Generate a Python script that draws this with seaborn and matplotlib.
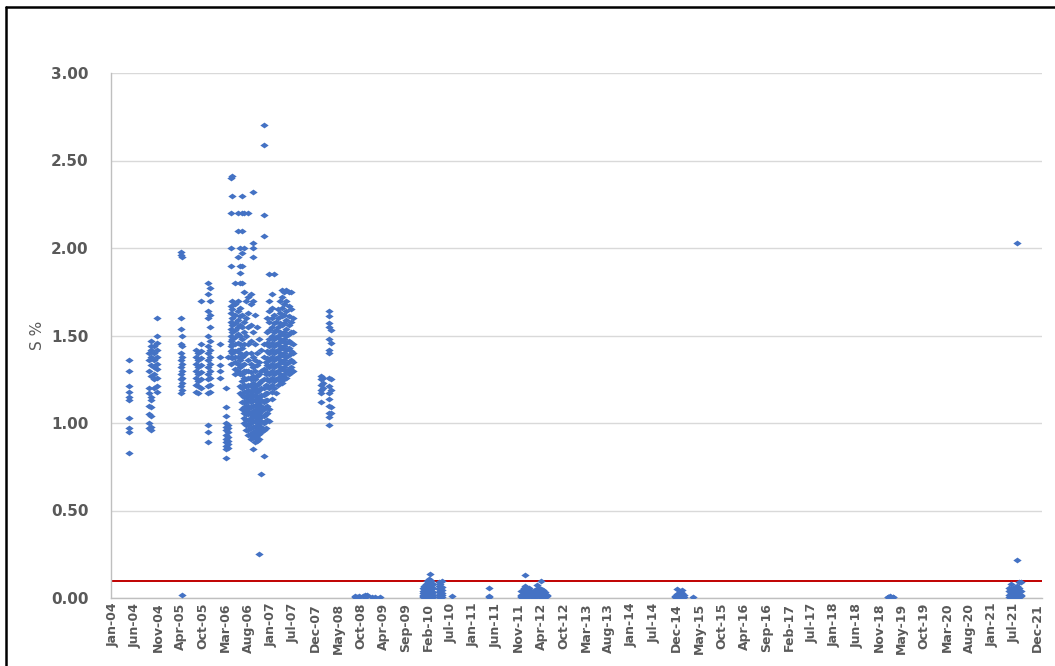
import pandas as pd
import matplotlib
matplotlib.use("Agg")
import matplotlib.pyplot as plt
from matplotlib.path import Path
from matplotlib.lines import Line2D
import seaborn as sns

# each entry of col_dates is one column of points, its S % values are in col_values
col_dates = [
    "2004-04-26", "2004-09-10", "2004-09-25", "2004-10-20", "2004-11-08",
    "2005-04-26", "2005-05-06", "2005-08-15", "2005-08-30", "2005-09-20",
    "2005-11-05", "2005-11-20", "2006-01-30",
    "2006-03-15", "2006-03-25", "2006-04-20", "2006-04-28", "2006-05-15",
    "2006-06-05", "2006-06-20", "2006-07-05", "2006-07-20", "2006-08-05",
    "2006-08-20", "2006-09-05", "2006-09-20", "2006-10-05", "2006-10-20",
    "2006-11-05", "2006-11-18", "2006-12-05", "2006-12-20",
    "2007-01-01", "2007-01-15", "2007-02-01", "2007-02-15", "2007-03-01",
    "2007-03-15", "2007-04-01", "2007-04-15", "2007-05-01", "2007-05-15",
    "2007-06-01", "2007-06-15", "2007-07-01",
    "2008-01-15", "2008-01-28", "2008-03-15", "2008-03-28",
    "2008-09-15", "2008-09-25", "2008-10-10", "2008-11-10", "2008-11-25",
    "2008-12-05", "2009-01-10", "2009-02-01", "2009-03-10",
    "2010-01-10", "2010-01-20", "2010-02-01", "2010-02-10", "2010-02-20",
    "2010-03-01", "2010-03-10", "2010-03-20", "2010-05-01", "2010-05-10",
    "2010-05-25", "2010-08-01", "2011-04-20",
    "2011-12-10", "2011-12-25", "2012-01-05", "2012-01-20", "2012-02-01",
    "2012-02-15", "2012-03-01", "2012-03-15", "2012-04-01", "2012-04-15",
    "2012-04-25", "2012-05-10", "2012-05-25", "2012-06-10",
    "2014-12-05", "2014-12-20", "2015-01-05", "2015-01-20", "2015-02-05",
    "2015-04-10",
    "2019-01-25", "2019-02-10", "2019-02-25",
    "2021-06-01", "2021-06-15", "2021-06-28", "2021-07-10", "2021-07-25",
    "2021-08-08", "2021-08-25",
]

col_values = [
    [1.36, 1.30, 1.21, 1.18, 1.15, 1.13, 1.03, 0.97, 0.95, 0.83],
    [1.40, 1.36, 1.30, 1.20, 1.17, 1.10, 1.05, 1.00, 0.97],
    [1.47, 1.44, 1.42, 1.38, 1.33, 1.27, 1.15, 1.13, 1.09, 1.04, 0.98, 0.96],
    [1.44, 1.40, 1.36, 1.32, 1.28, 1.25, 1.20],
    [1.60, 1.50, 1.46, 1.42, 1.38, 1.34, 1.31, 1.26, 1.21, 1.18],
    [1.98, 1.96, 1.60, 1.54, 1.45, 1.40, 1.36, 1.32, 1.28, 1.25, 1.21, 1.17],
    [1.95, 1.50, 1.44, 1.38, 1.34, 1.30, 1.26, 1.23, 1.19, 0.02],
    [1.42, 1.38, 1.34, 1.30, 1.26, 1.22, 1.18],
    [1.40, 1.36, 1.32, 1.28, 1.24, 1.21, 1.17],
    [1.70, 1.45, 1.41, 1.37, 1.33, 1.29, 1.25, 1.20],
    [1.80, 1.74, 1.64, 1.60, 1.50, 1.44, 1.40, 1.36, 1.32, 1.28, 1.25, 1.21,
     1.17, 0.99, 0.95, 0.89],
    [1.77, 1.70, 1.62, 1.55, 1.47, 1.42, 1.38, 1.34, 1.30, 1.26, 1.22, 1.18],
    [1.45, 1.38, 1.33, 1.30, 1.26],
    [1.20, 1.09, 1.04, 1.00, 0.98, 0.96, 0.93, 0.91, 0.89, 0.87, 0.85, 0.80],
    [1.38, 0.99, 0.97, 0.95, 0.92, 0.90, 0.88, 0.86],
    [2.40, 2.20, 2.00, 1.90, 1.67, 1.63, 1.58, 1.54, 1.50, 1.47, 1.44, 1.41,
     1.38, 1.34],
    [2.41, 2.30, 1.70, 1.65, 1.60, 1.56, 1.52, 1.48, 1.45, 1.42, 1.40, 1.37],
    [1.80, 1.68, 1.62, 1.57, 1.53, 1.49, 1.45, 1.41, 1.38, 1.35, 1.31, 1.28],
    [2.20, 2.10, 1.95, 1.70, 1.64, 1.59, 1.55, 1.51, 1.46, 1.42, 1.38, 1.34,
     1.30],
    [2.00, 1.90, 1.86, 1.80, 1.66, 1.61, 1.56, 1.50, 1.45, 1.40, 1.36, 1.32,
     1.28, 1.21, 1.17],
    [2.30, 2.20, 2.10, 1.97, 1.90, 1.80, 1.62, 1.55, 1.48, 1.43, 1.38, 1.33,
     1.28, 1.24, 1.20, 1.16, 1.12, 1.08],
    [2.20, 2.00, 1.75, 1.58, 1.52, 1.45, 1.39, 1.34, 1.30, 1.26, 1.22, 1.18,
     1.15, 1.12, 1.09, 1.06, 1.03, 1.00],
    [1.70, 1.60, 1.50, 1.40, 1.30, 1.25, 1.21, 1.18, 1.15, 1.12, 1.10, 1.07,
     1.05, 1.02, 0.99, 0.96],
    [2.20, 1.72, 1.63, 1.55, 1.45, 1.36, 1.30, 1.26, 1.22, 1.19, 1.16, 1.13,
     1.10, 1.08, 1.05, 1.02, 0.99, 0.96, 0.93],
    [1.74, 1.68, 1.56, 1.47, 1.40, 1.34, 1.29, 1.25, 1.21, 1.18, 1.15, 1.12,
     1.09, 1.06, 1.03, 1.00, 0.97, 0.94, 0.91],
    [2.32, 2.03, 2.00, 1.95, 1.70, 1.52, 1.38, 1.32, 1.27, 1.23, 1.19, 1.16,
     1.13, 1.10, 1.07, 1.04, 1.01, 0.98, 0.95, 0.92, 0.85],
    [1.62, 1.45, 1.36, 1.30, 1.25, 1.20, 1.16, 1.13, 1.10, 1.07, 1.04, 1.01,
     0.98, 0.95, 0.92, 0.89],
    [1.55, 1.40, 1.33, 1.27, 1.22, 1.18, 1.14, 1.11, 1.08, 1.05, 1.02, 0.99,
     0.96, 0.93, 0.90],
    [1.48, 1.35, 1.28, 1.23, 1.19, 1.15, 1.12, 1.09, 1.06, 1.03, 1.00, 0.97,
     0.94, 0.91, 0.25],
    [1.42, 1.30, 1.24, 1.20, 1.16, 1.13, 1.10, 1.07, 1.04, 1.01, 0.98, 0.95,
     0.71],
    [2.70, 2.59, 2.19, 2.07, 1.45, 1.38, 1.31, 1.25, 1.20, 1.16, 1.12, 1.08,
     1.04, 1.00, 0.96, 0.81],
    [1.35, 1.28, 1.22, 1.17, 1.13, 1.09, 1.05, 1.01, 0.97],
    [1.60, 1.52, 1.46, 1.41, 1.37, 1.33, 1.29, 1.25, 1.21, 1.17, 1.13, 1.10,
     1.06, 1.02],
    [1.85, 1.70, 1.64, 1.58, 1.53, 1.48, 1.44, 1.40, 1.36, 1.32, 1.28, 1.24,
     1.20, 1.08, 1.01],
    [1.74, 1.66, 1.60, 1.55, 1.50, 1.46, 1.42, 1.38, 1.34, 1.30, 1.26, 1.22,
     1.18, 1.14],
    [1.85, 1.62, 1.57, 1.52, 1.48, 1.44, 1.40, 1.36, 1.32, 1.28, 1.24, 1.20],
    [1.58, 1.53, 1.49, 1.45, 1.41, 1.37, 1.33, 1.29, 1.25, 1.17],
    [1.65, 1.60, 1.55, 1.50, 1.46, 1.42, 1.38, 1.34, 1.30, 1.26, 1.22],
    [1.70, 1.63, 1.57, 1.52, 1.48, 1.44, 1.40, 1.36, 1.32, 1.28, 1.24],
    [1.76, 1.72, 1.66, 1.61, 1.56, 1.51, 1.47, 1.43, 1.39, 1.35, 1.31, 1.27,
     1.23],
    [1.75, 1.68, 1.62, 1.57, 1.52, 1.48, 1.44, 1.40, 1.36, 1.32, 1.28, 1.25],
    [1.76, 1.70, 1.64, 1.59, 1.54, 1.50, 1.46, 1.42, 1.38, 1.34, 1.30, 1.26],
    [1.75, 1.67, 1.61, 1.56, 1.51, 1.47, 1.43, 1.39, 1.35, 1.31, 1.28],
    [1.75, 1.65, 1.58, 1.52, 1.46, 1.41, 1.36, 1.32, 1.29],
    [1.60, 1.52, 1.45, 1.40, 1.35, 1.30],
    [1.27, 1.25, 1.22, 1.19, 1.17, 1.12],
    [1.26, 1.23, 1.20],
    [1.64, 1.61, 1.57, 1.55, 1.48, 1.42, 1.40, 1.255, 1.21, 1.17, 1.14, 1.10,
     1.055, 1.036, 0.99],
    [1.53, 1.46, 1.25, 1.19, 1.09, 1.06],
    [0.01, 0.005],
    [0.008],
    [0.012, 0.004],
    [0.01],
    [0.015, 0.005],
    [0.02, 0.01],
    [0.006],
    [0.005],
    [0.005],
    [0.06, 0.04, 0.03, 0.02, 0.01, 0.005],
    [0.07, 0.05, 0.035, 0.02, 0.01],
    [0.08, 0.06, 0.045, 0.03, 0.015, 0.005],
    [0.10, 0.07, 0.05, 0.035, 0.02, 0.01],
    [0.11, 0.09, 0.06, 0.04, 0.025, 0.01],
    [0.14, 0.105, 0.08, 0.06, 0.04, 0.02, 0.005],
    [0.10, 0.075, 0.05, 0.03, 0.015],
    [0.08, 0.055, 0.035, 0.02, 0.005],
    [0.09, 0.07, 0.05, 0.035, 0.02, 0.005],
    [0.08, 0.06, 0.04, 0.025, 0.01],
    [0.095, 0.065, 0.045, 0.03, 0.015, 0.005],
    [0.01],
    [0.055, 0.01, 0.005],
    [0.04, 0.02, 0.01, 0.005],
    [0.06, 0.04, 0.025, 0.01],
    [0.13, 0.07, 0.05, 0.03, 0.015, 0.005],
    [0.06, 0.045, 0.03, 0.015, 0.005],
    [0.055, 0.035, 0.02, 0.01],
    [0.04, 0.025, 0.01],
    [0.03, 0.015, 0.005],
    [0.045, 0.03, 0.015, 0.005],
    [0.075, 0.05, 0.035, 0.02, 0.01],
    [0.06, 0.04, 0.025, 0.01],
    [0.10, 0.05, 0.03, 0.015, 0.005],
    [0.045, 0.03, 0.015],
    [0.035, 0.02, 0.005],
    [0.02, 0.01],
    [0.01, 0.005],
    [0.05, 0.025, 0.01],
    [0.035, 0.02, 0.005],
    [0.045, 0.03, 0.01],
    [0.015, 0.005],
    [0.008],
    [0.008, 0.004],
    [0.01, 0.005],
    [0.008, 0.004],
    [0.06, 0.04, 0.02, 0.005],
    [0.08, 0.05, 0.03, 0.015, 0.005],
    [0.055, 0.035, 0.02, 0.01],
    [0.065, 0.045, 0.03, 0.015, 0.005],
    [2.03, 0.22, 0.07, 0.05, 0.03, 0.01],
    [0.09, 0.06, 0.04, 0.02, 0.005],
    [0.09, 0.04, 0.02, 0.01],
]

threshold = 0.10
y_ticks = [0.0, 0.5, 1.0, 1.5, 2.0, 2.5, 3.0]
first_tick = "2004-01-01"
tick_step = "160D"
n_ticks = 42
x_limits = ("2003-12-18", "2022-01-21")

df = pd.DataFrame({"date": col_dates, "S %": col_values}).explode("S %")
df["date"] = pd.to_datetime(df["date"])
df["S %"] = df["S %"].astype(float)

sns.set_theme(style="white")
plt.rcParams["font.family"] = ["DejaVu Sans"]

fig = plt.figure(figsize=(10.55, 6.66), dpi=100)
ax = fig.add_axes([111 / 1055, 1 - 598 / 666, 931 / 1055, 525 / 666])

diamond = Path([(-1, 0), (0, 0.7), (1, 0), (0, -0.7), (-1, 0)],
               [Path.MOVETO, Path.LINETO, Path.LINETO, Path.LINETO, Path.CLOSEPOLY])
sns.scatterplot(data=df, x="date", y="S %", marker=diamond, s=36,
                color="#4472C4", linewidth=0, ax=ax, zorder=3, legend=False)
ax.axhline(threshold, color="#C00000", lw=1.4, zorder=2)

ax.set_ylim(0, 3)
ax.set_yticks(y_ticks)
ax.set_yticklabels([f"{v:.2f}" for v in y_ticks])
ax.yaxis.grid(True, color="#D9D9D9", lw=1)
ax.xaxis.grid(False)
ax.set_axisbelow(True)

ticks = pd.date_range(first_tick, periods=n_ticks, freq=tick_step)
ax.set_xlim(pd.Timestamp(x_limits[0]), pd.Timestamp(x_limits[1]))
ax.set_xticks(ticks)
ax.set_xticklabels([t.strftime("%b-%y") for t in ticks], rotation=90)

for side in ["top", "right"]:
    ax.spines[side].set_visible(False)
for side in ["left", "bottom"]:
    ax.spines[side].set_color("#BFBFBF")
    ax.spines[side].set_linewidth(1)

ax.tick_params(axis="both", length=0, colors="#595959")
ax.tick_params(axis="y", pad=16, labelsize=11)
ax.tick_params(axis="x", pad=3.5, labelsize=9)
for lab in ax.get_yticklabels() + ax.get_xticklabels():
    lab.set_fontweight("bold")

ax.set_xlabel("")
ax.set_ylabel("S %", fontsize=11, color="#595959")
ax.yaxis.set_label_coords(-0.071, 0.5)

# black chart frame, cut off at the right and bottom like the screenshot
fig.add_artist(Line2D([6 / 1055, 1.0], [1 - 7 / 666] * 2, transform=fig.transFigure,
                      color="black", lw=1.8))
fig.add_artist(Line2D([6 / 1055] * 2, [0.0, 1 - 7 / 666], transform=fig.transFigure,
                      color="black", lw=1.8))

fig.savefig("out.png", dpi=100)
